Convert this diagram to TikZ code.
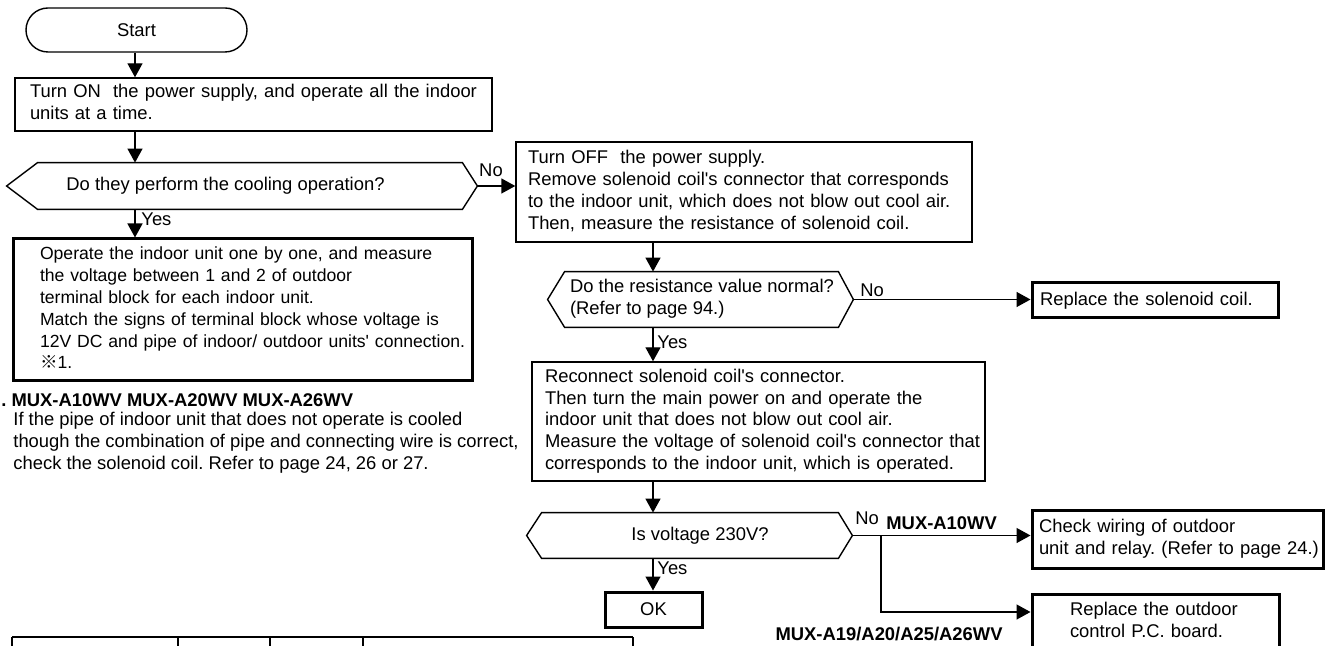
\documentclass[tikz,border=0pt]{standalone}
\usepackage{fontspec}
\setmainfont{Liberation Sans}
\newfontfamily\cjkf{Noto Sans CJK JP}
\usetikzlibrary{arrows.meta,calc}
\newcommand{\q}{\textquotesingle}
\newcommand{\mylines}[1]{\begin{tabular}{@{}l@{}}#1\end{tabular}}
\newcommand{\hexat}[3]{\draw[ln] (#1.west) -- ([xshift=#2]#1.north west) -- ([xshift=-#3]#1.north east) -- (#1.east) -- ([xshift=-#3]#1.south east) -- ([xshift=#2]#1.south west) -- cycle;}
\begin{document}
\begin{tikzpicture}[x=0.5pt,y=-0.5pt,
  every node/.style={font=\fontsize{9.2}{10.9}\selectfont\frenchspacing, inner sep=0pt},
  ln/.style={line width=0.7pt},
  thinbox/.style={draw, line width=0.7pt, align=left},
  thickbox/.style={draw, line width=1.5pt, align=left},
  hexn/.style={draw=none, inner sep=0pt},
  arr/.style={line width=0.7pt, -{Triangle[length=7pt,width=7.5pt]}},
  boldlbl/.style={font=\fontsize{9.2}{10.9}\selectfont\frenchspacing\bfseries}]
\useasboundingbox (0,0) rectangle (1332,646);
\clip (0,0) rectangle (1332,646);

% start
\node[draw, line width=0.7pt, rounded corners=11pt, minimum width=110.5pt, minimum height=22pt] (start) at (136.5,30) {Start};

% box 1
\node[thinbox, text width=223.5pt, inner xsep=7.5pt, minimum height=26.5pt] (b1) at (253.5,104.5)
  {\mylines{Turn ON~ the power supply, and operate all the indoor\\units at a time.}};

% decision 1
\node[hexn, minimum width=235pt, minimum height=23pt] (d1) at (242,186) {};
\hexat{d1}{15.5pt}{7.5pt}
\node (d1t) at (225.5,186) {Do they perform the cooling operation?};

% box 2
\node[thickbox, text width=202.5pt, inner xsep=13.5pt, minimum height=71pt,
      font=\fontsize{8.8}{10.9}\selectfont\frenchspacing] (b2) at (242.5,310)
  {\mylines{Operate the indoor unit one by one, and measure\\
  the voltage between 1 and 2 of outdoor\\
  terminal block for each indoor unit.\\
  Match the signs of terminal block whose voltage is\\
  12V DC and pipe of indoor/ outdoor units\q{} connection.\\
  {\cjkf ※}1.}};

% footnote
\node[boldlbl, anchor=west] (fnh) at (1,400) {. MUX-A10WV MUX-A20WV MUX-A26WV};
\node[anchor=west, align=left] (fnb) at (13,443)
  {\mylines{If the pipe of indoor unit that does not operate is cooled\\
  though the combination of pipe and connecting wire is correct,\\
  check the solenoid coil. Refer to page 24, 26 or 27.}};

% box 3
\node[thinbox, text width=216pt, inner xsep=6pt, minimum height=50pt] (b3) at (744,192)
  {\mylines{Turn OFF~ the power supply.\\
  Remove solenoid coil\q{}s connector that corresponds\\
  to the indoor unit, which does not blow out cool air.\\
  Then, measure the resistance of solenoid coil.}};

% decision 2
\node[hexn, minimum width=152.5pt, minimum height=27.5pt] (d2) at (700.5,299.5) {};
\hexat{d2}{8.5pt}{7.5pt}
\node (d2t) at (702,299.5) {\mylines{Do the resistance value normal?\\(Refer to page 94.)}};

% replace solenoid
\node[thickbox, text width=115pt, inner xsep=4pt, minimum height=17.5pt] (r1) at (1155,300.5)
  {Replace the solenoid coil.};

% box 4
\node[thinbox, text width=213.5pt, inner xsep=6.5pt, minimum height=59.5pt] (b4) at (758.5,421.5)
  {\mylines{Reconnect solenoid coil\q{}s connector.\\
  Then turn the main power on and operate the\\
  indoor unit that does not blow out cool air.\\
  Measure the voltage of solenoid coil\q{}s connector that\\
  corresponds to the indoor unit, which is operated.}};

% decision 3
\node[hexn, minimum width=162.5pt, minimum height=22.5pt] (d3) at (689.5,535.5) {};
\hexat{d3}{7.5pt}{7pt}
\node (d3t) at (700,535.5) {Is voltage 230V?};

% OK
\node[draw, line width=1.5pt, minimum width=48.5pt, minimum height=17.5pt] (ok) at (653.5,609.5) {OK};

% check wiring
\node[thickbox, text width=138.5pt, inner xsep=3.5pt, minimum height=29pt] (cw) at (1177.5,539)
  {\mylines{Check wiring of outdoor\\unit and relay. (Refer to page 24.)}};

% replace outdoor board
\node[thickbox, text width=85.5pt, inner xsep=19pt, minimum height=28.5pt] (ro) at (1155.5,622.5)
  {\mylines{Replace the outdoor\\control P.C. board.}};

% connectors
\coordinate (c1) at (135,0);
\coordinate (c2) at (653,0);
\coordinate (br) at (881,0);
\coordinate (rb) at (881,612);
\draw[arr] (start.south -| c1) -- (b1.north -| c1);
\draw[arr] (b1.south -| c1) -- (d1.north -| c1);
\draw[arr] (d1.south -| c1) -- (b2.north -| c1);
\draw[arr] (d1.east) -- (d1.east -| b3.west);
\draw[arr] (b3.south -| c2) -- (d2.north -| c2);
\draw[arr] (d2.east) -- (d2.east -| r1.west);
\draw[arr] (d2.south -| c2) -- (b4.north -| c2);
\draw[arr] (b4.south -| c2) -- (d3.north -| c2);
\draw[arr] (d3.south -| c2) -- (ok.north -| c2);
\draw[arr] (d3.east) -- (d3.east -| cw.west);
\draw[arr] (d3.east -| br) -- (rb) -- (rb -| ro.west);

% labels
\node (no1) at (491,170) {No};
\node[anchor=west] (yes1) at (141,219) {Yes};
\node (no2) at (872,290) {No};
\node[anchor=west] (yes2) at (657,342) {Yes};
\node[anchor=west] (no3) at (855,518) {No};
\node[boldlbl, anchor=west] (m10) at (886,523) {MUX-A10WV};
\node[anchor=west] (yes3) at (657,568) {Yes};
\node[boldlbl, anchor=east] (m19) at (1003,634) {MUX-A19/A20/A25/A26WV};

% table top (cut off)
\coordinate (t1) at (12,637);
\coordinate (t2) at (178,637);
\coordinate (t3) at (270,637);
\coordinate (t4) at (363,637);
\coordinate (t5) at (633,637);
\draw[line width=0.6pt] (t1) -- (t5);
\foreach \t in {t1,t2,t3,t4,t5} \draw[line width=0.6pt] (\t) -- ++(0,20);
\end{tikzpicture}
\end{document}
